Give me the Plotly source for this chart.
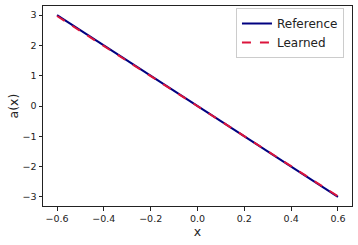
import plotly.graph_objects as go

x_ref = [-0.6, -0.3, 0.0, 0.3, 0.6]
a_ref = [3.0, 1.5, 0.0, -1.5, -3.0]
x_learned = [-0.6, -0.3, 0.0, 0.3, 0.6]
a_learned = [2.97, 1.49, 0.0, -1.49, -2.98]

x_ticks = [-0.6, -0.4, -0.2, 0.0, 0.2, 0.4, 0.6]
x_tick_labels = ["−0.6", "−0.4", "−0.2", "0.0", "0.2", "0.4", "0.6"]
y_ticks = [-3, -2, -1, 0, 1, 2, 3]
y_tick_labels = ["−3", "−2", "−1", "0", "1", "2", "3"]

fig = go.Figure()
fig.add_trace(go.Scatter(x=x_ref, y=a_ref, mode="lines", name="Reference",
                         line=dict(color="#000080", width=2)))
fig.add_trace(go.Scatter(x=x_learned, y=a_learned, mode="lines", name="Learned",
                         line=dict(color="#DC143C", width=2, dash="dash")))

axis_common = dict(showgrid=False, zeroline=False, showline=True, linecolor="#222222",
                   linewidth=1, mirror=True, ticks="outside", ticklen=3.5,
                   tickcolor="#222222", tickwidth=1, automargin=False,
                   tickfont=dict(family="DejaVu Sans", size=9.5, color="#222222"))

fig.update_layout(
    width=358, height=245,
    margin=dict(l=43, r=6, t=6, b=39, autoexpand=False),
    paper_bgcolor="white", plot_bgcolor="white",
    font=dict(family="DejaVu Sans", color="#222222"),
    xaxis=dict(range=[-0.66, 0.66], tickvals=x_ticks, ticktext=x_tick_labels,
               title=dict(text="x", font=dict(size=12.5), standoff=2), **axis_common),
    yaxis=dict(range=[-3.3, 3.3], tickvals=y_ticks, ticktext=y_tick_labels,
               title=dict(text="a(x)", font=dict(size=12.5), standoff=1), **axis_common),
    legend=dict(x=0.974, y=0.99, xanchor="right", yanchor="top",
                bgcolor="rgba(255,255,255,0.8)", bordercolor="#cccccc", borderwidth=1,
                font=dict(size=12), itemwidth=30, tracegroupgap=0),
    showlegend=True,
)

fig.write_html("out.html", config={"displayModeBar": False},
               post_script="document.body.style.margin='0';document.body.style.overflow='hidden';")
